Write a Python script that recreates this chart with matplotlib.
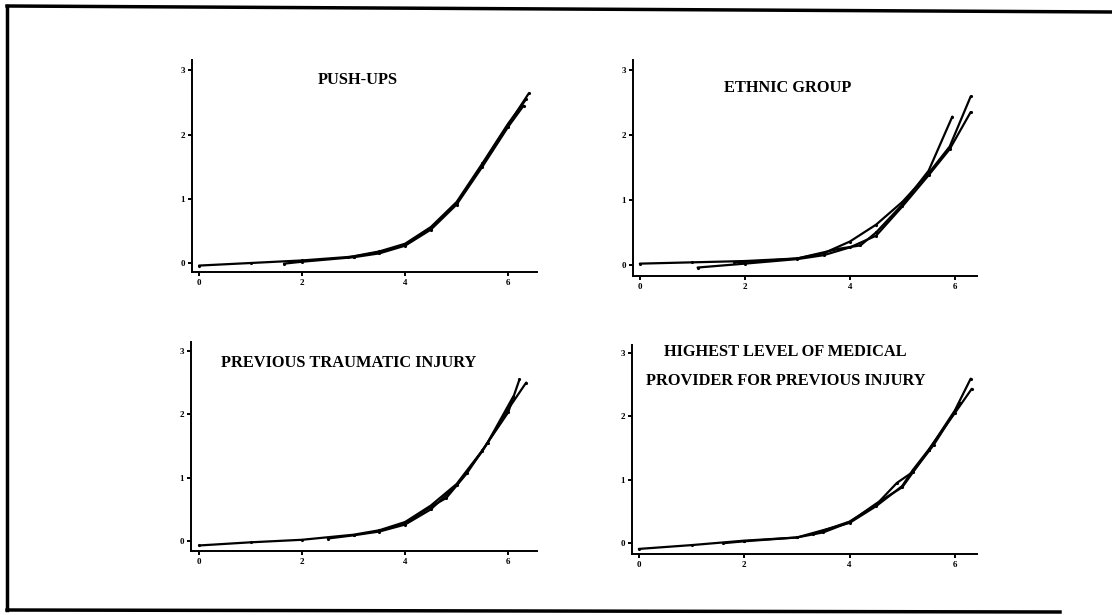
import matplotlib
matplotlib.use("Agg")
import matplotlib.pyplot as plt
from matplotlib.lines import Line2D

# ---------------- data ----------------
titles = ["PUSH-UPS", "ETHNIC GROUP", "PREVIOUS TRAUMATIC INJURY",
          "HIGHEST LEVEL OF MEDICAL\nPROVIDER FOR PREVIOUS INJURY"]
x_ticks = [0, 2, 4, 6]
y_ticks = [0, 1, 2, 3]

# Panel 1: push-ups
pu_x1 = [0, 1, 2, 3, 3.5, 4, 4.5, 5, 5.5, 5.8, 6.0, 6.4]
pu_y1 = [-0.04, 0.0, 0.04, 0.10, 0.17, 0.28, 0.54, 0.93, 1.53, 1.91, 2.15, 2.64]
pu_x2 = [1.65, 2, 3, 3.5, 4, 4.5, 5, 5.5, 6.0, 6.3]
pu_y2 = [-0.01, 0.02, 0.09, 0.15, 0.27, 0.52, 0.91, 1.50, 2.12, 2.45]
pu_x3 = [2.9, 3.5, 4, 4.5, 5, 5.5, 6.0, 6.35]
pu_y3 = [0.09, 0.18, 0.30, 0.56, 0.95, 1.55, 2.17, 2.55]

# Panel 2: ethnic group
eg_x1 = [0, 1, 2, 3, 3.5, 4, 4.5, 5, 5.5, 5.9, 6.3]
eg_y1 = [0.02, 0.04, 0.06, 0.10, 0.18, 0.36, 0.62, 0.97, 1.41, 1.82, 2.59]
eg_x2 = [1.1, 2, 3, 3.5, 4, 4.5, 5, 5.5, 5.9, 6.3]
eg_y2 = [-0.04, 0.02, 0.09, 0.15, 0.27, 0.45, 0.90, 1.38, 1.78, 2.35]
eg_x3 = [1.8, 2.5, 3, 3.8, 4.2, 4.5, 5, 5.5, 5.95]
eg_y3 = [0.04, 0.07, 0.10, 0.25, 0.30, 0.50, 0.93, 1.45, 2.28]

# Panel 3: previous traumatic injury
pt_x1 = [0, 1, 2, 3, 3.5, 4, 4.5, 5, 5.5, 6.0, 6.22]
pt_y1 = [-0.07, -0.02, 0.02, 0.10, 0.17, 0.30, 0.56, 0.90, 1.43, 2.03, 2.55]
pt_x2 = [2.5, 3, 3.5, 4, 4.5, 5, 5.5, 6.0, 6.35]
pt_y2 = [0.04, 0.09, 0.15, 0.26, 0.50, 0.88, 1.42, 2.08, 2.50]
pt_x3 = [3.5, 4, 4.5, 4.8, 5.2, 5.6, 6.1]
pt_y3 = [0.16, 0.28, 0.54, 0.68, 1.07, 1.55, 2.28]

# Panel 4: highest level of medical provider
hl_x1 = [0, 1, 2, 3, 3.5, 4, 4.5, 5, 5.5, 6.0, 6.3]
hl_y1 = [-0.09, -0.03, 0.04, 0.09, 0.17, 0.33, 0.62, 0.88, 1.46, 2.09, 2.59]
hl_x2 = [1.6, 2, 3, 4, 4.5, 5, 5.2, 5.5, 6.0, 6.32]
hl_y2 = [0.0, 0.03, 0.09, 0.32, 0.58, 0.90, 1.15, 1.47, 2.05, 2.43]
hl_x3 = [3.3, 4, 4.5, 4.9, 5.2, 5.6, 6.1]
hl_y3 = [0.14, 0.34, 0.60, 0.95, 1.12, 1.55, 2.20]

panels = [
    [(pu_x1, pu_y1), (pu_x2, pu_y2), (pu_x3, pu_y3)],
    [(eg_x1, eg_y1), (eg_x2, eg_y2), (eg_x3, eg_y3)],
    [(pt_x1, pt_y1), (pt_x2, pt_y2), (pt_x3, pt_y3)],
    [(hl_x1, hl_y1), (hl_x2, hl_y2), (hl_x3, hl_y3)],
]

# ---------------- layout ----------------
W, H = 1112, 615
fig = plt.figure(figsize=(W / 100, H / 100), dpi=100)
fig.patch.set_facecolor("white")

# pixel boxes: left, right, bottom, top ; axis limits
boxes = [
    (192, 537, 272, 60, (-0.136, 6.56), (-0.14, 3.16)),
    (633, 977, 276, 60, (-0.13, 6.42), (-0.17, 3.15)),
    (191, 537, 551, 342, (-0.155, 6.56), (-0.157, 3.14)),
    (632, 977, 554, 345, (-0.13, 6.42), (-0.17, 3.12)),
]
title_pos = [(0.48, 0.906), (0.45, 0.87), (0.455, 0.90), (0.445, 0.897)]

serif = "Liberation Serif"
for i, (l, r, b, t, xl, yl) in enumerate(boxes):
    ax = fig.add_axes([l / W, 1 - b / H, (r - l) / W, (b - t) / H])
    ax.set_xlim(*xl)
    ax.set_ylim(*yl)
    for xs, ys in panels[i]:
        ax.plot(xs, ys, color="black", lw=1.6, marker=".", ms=2.5,
                solid_capstyle="round")
    for s in ["top", "right"]:
        ax.spines[s].set_visible(False)
    for s in ["left", "bottom"]:
        ax.spines[s].set_linewidth(1.4)
    ax.set_xticks(x_ticks)
    ax.set_yticks(y_ticks)
    ax.tick_params(direction="out", length=3, width=1.4, labelsize=6.5, pad=2)
    for lab in ax.get_xticklabels() + ax.get_yticklabels():
        lab.set_fontweight("bold")
        lab.set_fontfamily(serif)
    tx, ty = title_pos[i]
    ax.text(tx, ty, titles[i], transform=ax.transAxes, ha="center",
            va="center", fontsize=11.8, fontweight="bold", family=serif,
            linespacing=2.15)

# scanned frame (no right edge)
frame_kw = dict(color="black", lw=2.5, transform=fig.transFigure)
fig.add_artist(Line2D([7 / W, 1.0], [1 - 6 / H, 1 - 12 / H], **frame_kw))
fig.add_artist(Line2D([7 / W, 7 / W], [1 - 6 / H, 1 - 610 / H], **frame_kw))
fig.add_artist(Line2D([7 / W, 1060 / W], [1 - 610 / H, 1 - 612 / H], **frame_kw))

fig.savefig("out.png", dpi=100)
